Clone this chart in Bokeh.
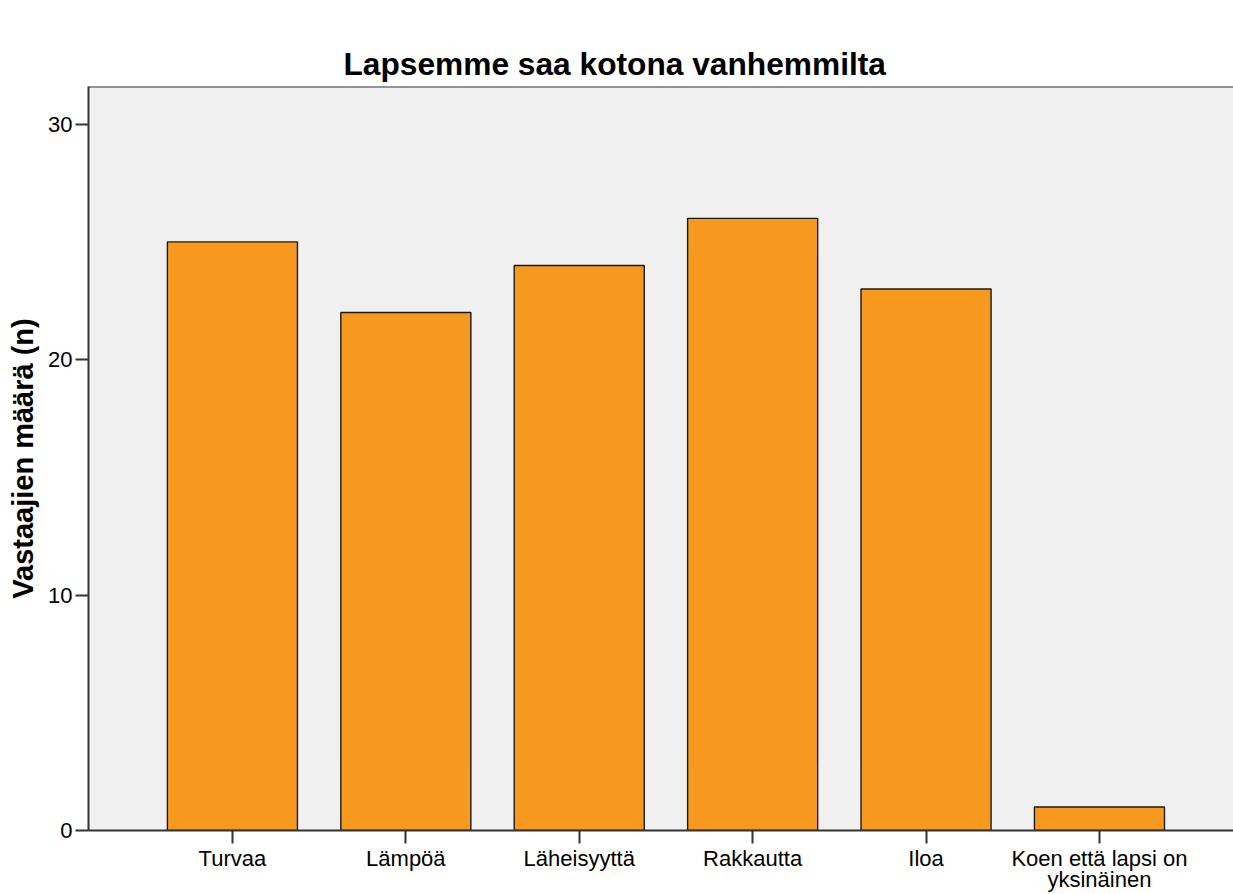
from bokeh.plotting import figure
from bokeh.models import ColumnDataSource, Range1d, FixedTicker, Span, LinearAxis
from bokeh.embed import file_html
from bokeh.resources import INLINE

categories = ["Turvaa", "Lämpöä", "Läheisyyttä", "Rakkautta", "Iloa", "Koen että lapsi on\nyksinäinen"]
counts = [25, 22, 24, 26, 23, 1]
y_ticks = [0, 10, 20, 30]
title_text = "Lapsemme saa kotona vanhemmilta"
y_label = "Vastaajien määrä (n)"

xs = list(range(len(categories)))
src = ColumnDataSource(dict(x=xs, top=counts, name=categories))

FONT = "Liberation Sans"
Y_MAX = 31.6

p = figure(width=1233, height=894, output_backend="svg", toolbar_location=None,
           x_range=Range1d(-0.83, 5.773), y_range=Range1d(0, Y_MAX),
           min_border_left=88, min_border_top=86, min_border_bottom=62, min_border_right=0,
           background_fill_color="#F0F0F0", border_fill_color="white")

p.vbar(x="x", top="top", width=0.75, source=src, fill_color="#F7991F",
       line_color="#1a1a1a", line_width=1.4)

p.outline_line_color = None
p.add_layout(Span(location=Y_MAX, dimension="width", line_color="#333333", line_width=2))

p.title.text = title_text
p.title.text_font = FONT
p.title.text_font_size = "31.7px"
p.title.text_font_style = "bold"
p.title.text_color = "black"
p.title.align = "left"
p.title.offset = 255
p.title.standoff = 10

p.xgrid.visible = False
p.ygrid.visible = False

xax = p.below[0]
yax = p.left[0]

xax.ticker = FixedTicker(ticks=xs)
xax.major_label_overrides = {i: c for i, c in zip(xs, categories)}
yax.ticker = FixedTicker(ticks=y_ticks)
xax.minor_tick_line_color = None
yax.minor_tick_line_color = None

for ax in (xax, yax):
    ax.axis_line_color = "#333333"
    ax.axis_line_width = 2
    ax.major_tick_line_color = "#333333"
    ax.major_tick_line_width = 2
    ax.major_tick_in = 0
    ax.major_tick_out = 13
    ax.major_label_text_font = FONT
    ax.major_label_text_font_size = "22px"
    ax.major_label_text_color = "black"
    ax.major_label_standoff = 3

xax.major_label_standoff = 2
xax.major_label_text_line_height = 0.85
yax.axis_label = y_label
yax.axis_label_text_font = FONT
yax.axis_label_text_font_size = "29px"
yax.axis_label_text_font_style = "bold"
yax.axis_label_text_color = "black"
yax.axis_label_standoff = 6

# empty spacer axis between frame and title: no ticks, no labels, no line
spacer = LinearAxis(ticker=FixedTicker(ticks=[]), axis_line_color=None,
                    major_tick_line_color="white", major_tick_in=0, major_tick_out=30,
                    minor_tick_line_color=None, major_label_standoff=0)
p.add_layout(spacer, "above")

open("out.html", "w").write(file_html(p, INLINE))
